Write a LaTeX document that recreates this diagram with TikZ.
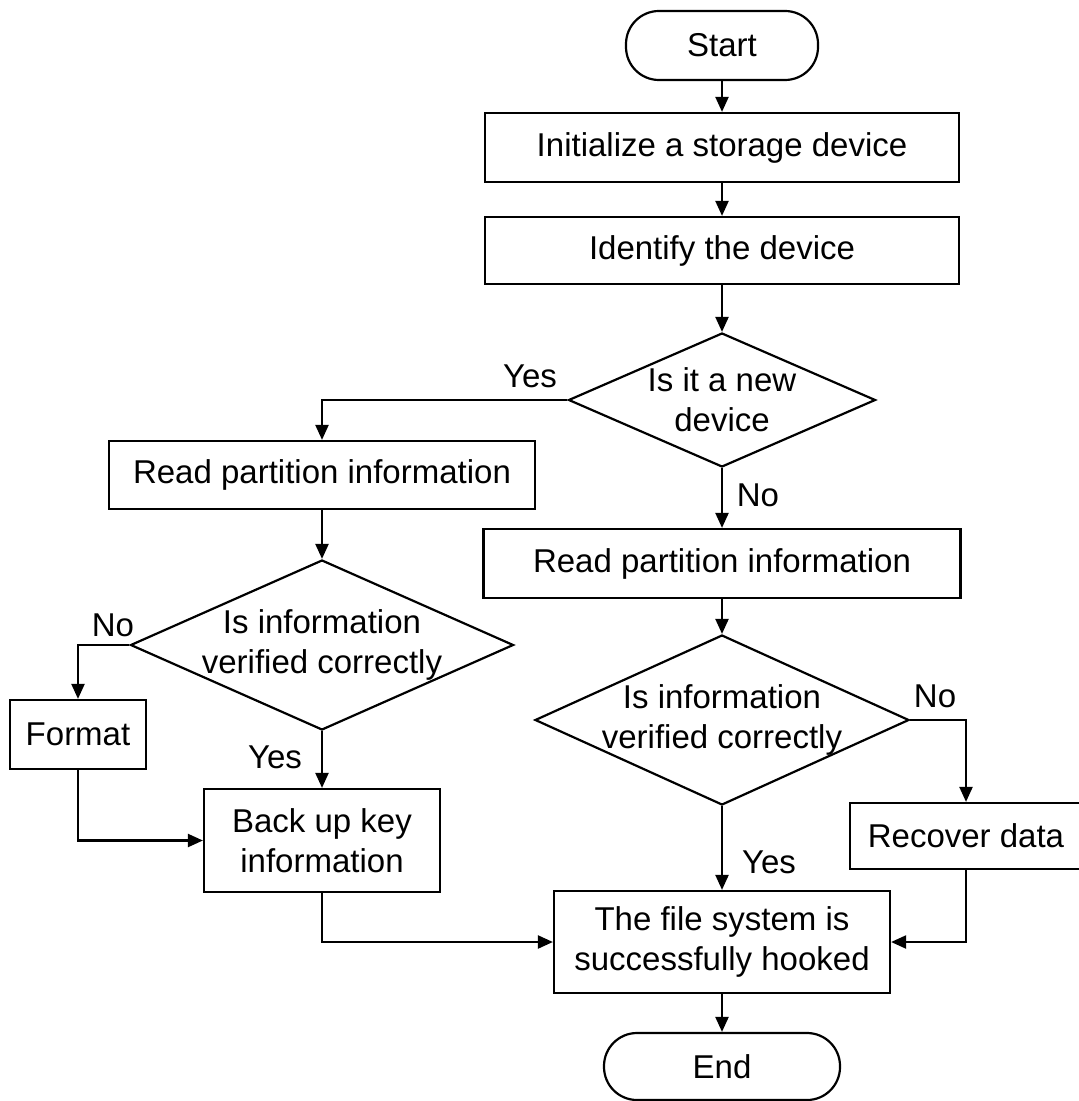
\documentclass[tikz,border=0pt]{standalone}
\usepackage{fontspec}
\setmainfont{Liberation Sans}
\usetikzlibrary{shapes.geometric,arrows.meta}

\tikzset{
  flowline/.style={line width=1.1pt,-{Triangle[length=7.5pt,width=6.5pt]}},
  procbox/.style={draw,line width=1.1pt,rectangle,inner sep=0pt,align=center},
  termbox/.style={draw,line width=1.1pt,rectangle,rounded corners=16.5pt,inner sep=0pt},
  decision/.style={draw,line width=1.1pt,diamond,inner sep=0pt,aspect=2.2},
  dtext/.style={align=center,inner sep=0pt},
  branch/.style={inner sep=0pt}
}

\begin{document}
\begin{tikzpicture}[x=0.5pt,y=-0.5pt,font=\fontsize{16.5}{20}\selectfont]
  \useasboundingbox (0,0) rectangle (1079,1101);

  % Main column
  \node[termbox,minimum width=96pt,minimum height=34.5pt] (start) at (722,45.5) {Start};
  \node[procbox,minimum width=237pt,minimum height=34.5pt] (init) at (722,147.5) {Initialize a storage device};
  \node[procbox,minimum width=237pt,minimum height=33.5pt] (ident) at (722,250.5) {Identify the device};
  \node[decision,minimum width=153.5pt,minimum height=67pt] (newdev) at (722,400) {};
  \node[dtext] (newdevtxt) at (newdev) {Is it a new\\device};

  % Left branch (new device)
  \node[procbox,minimum width=213pt,minimum height=34pt] (readL) at (322,475) {Read partition information};
  \node[decision,minimum width=191.5pt,minimum height=85pt] (verL) at (322,645) {};
  \node[dtext] (verLtxt) at (verL) {Is information\\verified correctly};
  \node[procbox,minimum width=68pt,minimum height=34.5pt] (format) at (78,734.5) {Format};
  \node[procbox,minimum width=118pt,minimum height=51.5pt] (backup) at (322,840.5) {Back up key\\information};

  % Right branch (known device)
  \node[procbox,minimum width=238.5pt,minimum height=34.5pt] (readR) at (722,563.5) {Read partition information};
  \node[decision,minimum width=187pt,minimum height=85pt] (verR) at (722,720) {};
  \node[dtext] (verRtxt) at (verR) {Is information\\verified correctly};
  \node[procbox,minimum width=116pt,minimum height=33pt] (recover) at (966,836) {Recover data};

  % Bottom
  \node[procbox,minimum width=168pt,minimum height=51pt] (hooked) at (722,942) {The file system is\\successfully hooked};
  \node[termbox,minimum width=118pt,minimum height=33.5pt] (end) at (722,1066.5) {End};

  % Connectors
  \draw[flowline] (start) -- (init);
  \draw[flowline] (init) -- (ident);
  \draw[flowline] (ident) -- (newdev.north);
  \draw[flowline] (newdev.west) -| (readL.north);
  \draw[flowline] (newdev.south) -- (readR.north);
  \draw[flowline] (readL) -- (verL.north);
  \draw[flowline] (readR) -- (verR.north);
  \draw[flowline] (verL.west) -| (format.north);
  \draw[flowline] (verL.south) -- (backup.north);
  \draw[flowline] (format.south) |- (backup.west);
  \draw[flowline] (verR.east) -| (recover.north);
  \draw[flowline] (verR.south) -- (hooked.north);
  \draw[flowline] (backup.south) |- (hooked.west);
  \draw[flowline] (recover.south) |- (hooked.east);
  \draw[flowline] (hooked) -- (end);

  % Branch labels
  \node[branch] (yesnew) at (530,376) {Yes};
  \node[branch] (nonew) at (758,495) {No};
  \node[branch] (noL) at (113,625) {No};
  \node[branch] (yesL) at (275,757) {Yes};
  \node[branch] (noR) at (935,696) {No};
  \node[branch] (yesR) at (769,862) {Yes};
\end{tikzpicture}
\end{document}
